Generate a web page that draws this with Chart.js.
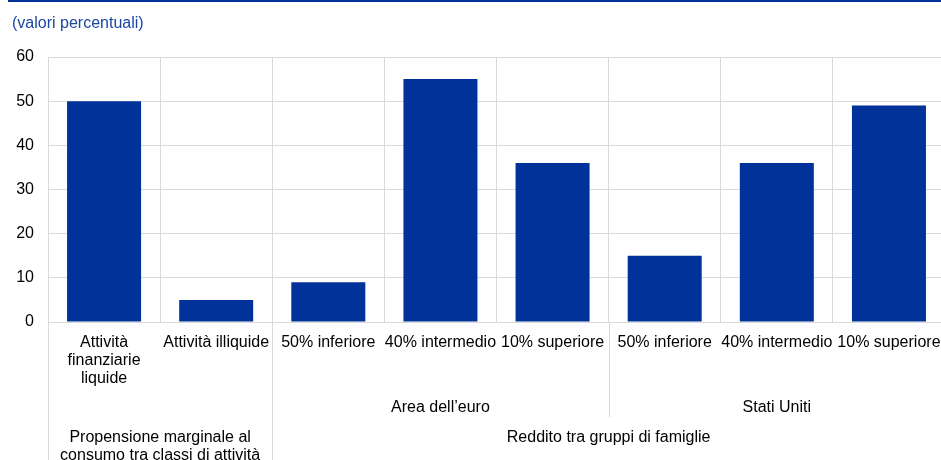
<!DOCTYPE html>
<html>
<head>
<meta charset="utf-8">
<script src="https://cdn.jsdelivr.net/npm/chart.js"></script>
<style>
  html, body { margin: 0; padding: 0; background: #fff; overflow: hidden; }
  #wrap { width: 945px; height: 460px; position: relative; }
</style>
</head>
<body>
<div id="wrap"><canvas id="chart"></canvas></div>
<script>
// Chart data
const categories = [
  ["Attività", "finanziarie", "liquide"],
  "Attività illiquide",
  "50% inferiore",
  "40% intermedio",
  "10% superiore",
  "50% inferiore",
  "40% intermedio",
  "10% superiore"
];
const values = [50, 5, 9, 55, 36, 15, 36, 49];
const yTicks = [0, 10, 20, 30, 40, 50, 60];

// Second and third level of the category axis (index ranges into categories)
const groupLabels = ["", "Area dell\u2019euro", "Stati Uniti"];
const groupStart = [0, 2, 5];
const groupEnd = [1, 4, 7];
const sectionLabels = [["Propensione marginale al", "consumo tra classi di attività"], ["Reddito tra gruppi di famiglie"]];
const sectionStart = [0, 2];
const sectionEnd = [1, 7];

const unitLabel = "(valori percentuali)";

const FONT = "'Liberation Sans', Arial, sans-serif";
const BLUE = "#003299";
const GRID = "#d9d9d9";

// Boundary pixel on the left side of category i
function leftEdge(scale, i) {
  if (i === 0) return scale.getPixelForValue(0) - (scale.getPixelForValue(1) - scale.getPixelForValue(0)) / 2;
  return (scale.getPixelForValue(i - 1) + scale.getPixelForValue(i)) / 2;
}
function rightEdge(scale, i) {
  if (i === categories.length - 1) return scale.getPixelForValue(i) + (scale.getPixelForValue(i) - scale.getPixelForValue(i - 1)) / 2;
  return (scale.getPixelForValue(i) + scale.getPixelForValue(i + 1)) / 2;
}

// Draws header, multi-level category labels and the separators below the axis
const multiLevelAxis = {
  id: "multiLevelAxis",
  afterDraw(chart) {
    const ctx = chart.ctx;
    const x = chart.scales.x;
    const bottom = chart.chartArea.bottom;
    ctx.save();

    // top rule and unit label
    ctx.fillStyle = BLUE;
    ctx.fillRect(8, 0, chart.width - 8, 2);
    ctx.font = "16px " + FONT;
    ctx.fillStyle = "#1a47a3";
    ctx.textAlign = "left";
    ctx.textBaseline = "middle";
    ctx.fillText(unitLabel, 12, 24);

    // separators below the axis
    ctx.strokeStyle = GRID;
    ctx.lineWidth = 1;
    const lines = [];
    sectionStart.forEach((s) => lines.push([leftEdge(x, s), chart.height]));
    groupStart.forEach((s) => {
      if (!sectionStart.includes(s)) lines.push([leftEdge(x, s), bottom + 95]);
    });
    lines.forEach(([px, yEnd]) => {
      const p = Math.round(px) + 0.5;
      ctx.beginPath();
      ctx.moveTo(p, bottom);
      ctx.lineTo(p, yEnd);
      ctx.stroke();
    });

    ctx.fillStyle = "#000";
    ctx.textAlign = "center";
    ctx.font = "16px " + FONT;

    // level 1
    categories.forEach((c, i) => {
      const rows = Array.isArray(c) ? c : [c];
      rows.forEach((r, j) => ctx.fillText(r, x.getPixelForValue(i), bottom + 21 + j * 18));
    });

    // level 2
    groupLabels.forEach((g, k) => {
      if (!g) return;
      const cx = (leftEdge(x, groupStart[k]) + rightEdge(x, groupEnd[k])) / 2;
      ctx.fillText(g, cx, bottom + 86);
    });

    // level 3
    sectionLabels.forEach((rows, k) => {
      const cx = (leftEdge(x, sectionStart[k]) + rightEdge(x, sectionEnd[k])) / 2;
      rows.forEach((r, j) => ctx.fillText(r, cx, bottom + 116 + j * 18));
    });

    ctx.restore();
  }
};

const ctx = document.getElementById("chart");
new Chart(ctx, {
  type: "bar",
  data: {
    labels: categories,
    datasets: [
      {
        data: values,
        backgroundColor: BLUE,
        borderWidth: 0,
        barPercentage: 0.66,
        categoryPercentage: 1
      }
    ]
  },
  options: {
    responsive: true,
    maintainAspectRatio: false,
    animation: false,
    layout: {
      padding: { top: 57, left: 16, right: 0, bottom: 138 }
    },
    plugins: {
      legend: { display: false },
      tooltip: { enabled: false }
    },
    scales: {
      x: {
        grid: { color: GRID, drawTicks: false, offset: true },
        border: { display: false },
        ticks: { display: false }
      },
      y: {
        min: 0,
        max: 60,
        afterBuildTicks: (axis) => {
          axis.ticks = yTicks.map((v) => ({ value: v }));
        },
        afterFit: (axis) => {
          axis.width = 32;
        },
        grid: { color: GRID, drawTicks: false },
        border: { display: false },
        ticks: {
          padding: 14,
          color: "#000",
          font: { size: 16, family: FONT }
        }
      }
    }
  },
  plugins: [multiLevelAxis]
});
</script>
</body>
</html>
